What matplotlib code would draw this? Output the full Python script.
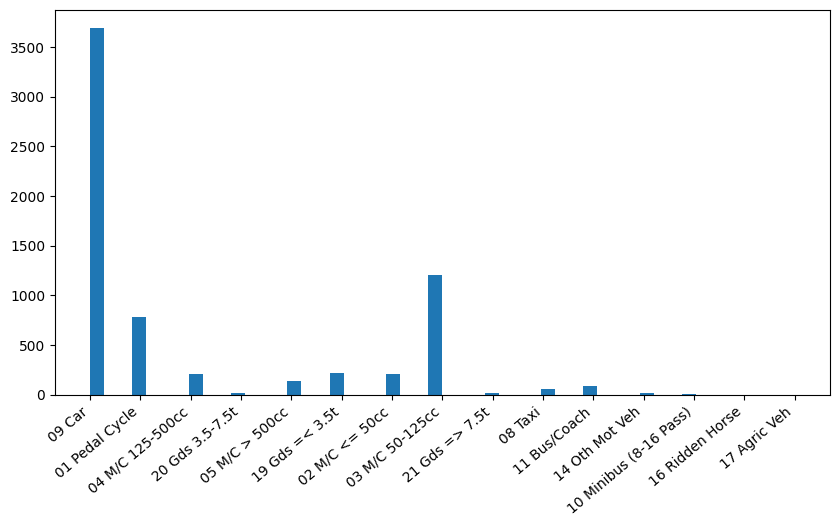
import matplotlib
matplotlib.use("Agg")
import matplotlib.pyplot as plt

# vehicle type categories, in order of first appearance
vehicle_types = [
    "09 Car", "01 Pedal Cycle", "04 M/C 125-500cc", "20 Gds 3.5-7.5t",
    "05 M/C > 500cc", "19 Gds =< 3.5t", "02 M/C <= 50cc", "03 M/C 50-125cc",
    "21 Gds => 7.5t", "08 Taxi", "11 Bus/Coach", "14 Oth Mot Veh",
    "10 Minibus (8-16 Pass)", "16 Ridden Horse", "17 Agric Veh",
]
# counts per vehicle type
counts = [3690, 785, 210, 18, 140, 220, 210, 1205, 18, 60, 90, 15, 10, 1, 1]

fig, ax = plt.subplots(figsize=(10, 5))
ax.hist(vehicle_types, bins=50, weights=counts)
plt.xticks(rotation=40, ha="right")
fig.savefig("out.png", dpi=100, bbox_inches="tight")
